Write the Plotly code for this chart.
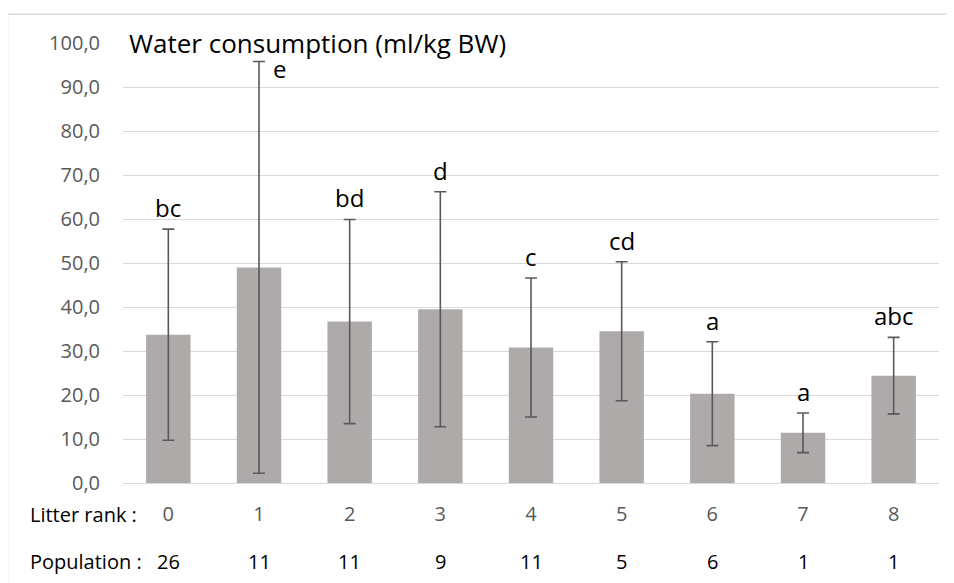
import plotly.graph_objects as go

litter_rank = [0, 1, 2, 3, 4, 5, 6, 7, 8]
mean_water = [33.7, 49.0, 36.7, 39.5, 30.8, 34.5, 20.3, 11.4, 24.4]
sd_water = [24.0, 46.8, 23.2, 26.7, 15.8, 15.8, 11.8, 4.5, 8.7]
letters = ["bc", "e", "bd", "d", "c", "cd", "a", "a", "abc"]
population = [26, 11, 11, 9, 11, 5, 6, 1, 1]
y_ticks = [0, 10, 20, 30, 40, 50, 60, 70, 80, 90, 100]

FONT = "Open Sans"
GRID = "#d9d9d9"

# page body has an 8px margin; plot area target in window px: x 123..939, y 43.3..483.3
fig = go.Figure()
fig.add_trace(go.Bar(
    x=litter_rank, y=mean_water, width=0.49,
    marker=dict(color="#aeaaaa", line=dict(width=0)),
    error_y=dict(type="data", array=sd_water, symmetric=True,
                 color="#595959", thickness=1.6, width=6),
    showlegend=False, hoverinfo="skip",
))

annotations = []
for xv, m, s, lab in zip(litter_rank, mean_water, sd_water, letters):
    if lab == "e":
        annotations.append(dict(x=xv, y=m + s, text=lab, xref="x", yref="y",
                                xanchor="left", yanchor="middle", xshift=12, yshift=-7,
                                showarrow=False, font=dict(family=FONT, size=24, color="black")))
    else:
        annotations.append(dict(x=xv, y=m + s, text=lab, xref="x", yref="y",
                                xanchor="center", yanchor="bottom", yshift=3,
                                showarrow=False, font=dict(family=FONT, size=24, color="black")))

for xv, p in zip(litter_rank, population):
    annotations.append(dict(x=xv, y=-0.179, text=str(p), xref="x", yref="paper",
                            xanchor="center", yanchor="middle", showarrow=False,
                            font=dict(family=FONT, size=20, color="black")))

annotations.append(dict(x=(28 - 123) / 816, y=-0.0727, text="Litter rank :", xref="paper", yref="paper",
                        xanchor="left", yanchor="middle", showarrow=False,
                        font=dict(family=FONT, size=20, color="black")))
annotations.append(dict(x=(28 - 123) / 816, y=-0.179, text="Population :", xref="paper", yref="paper",
                        xanchor="left", yanchor="middle", showarrow=False,
                        font=dict(family=FONT, size=20, color="black")))
annotations.append(dict(x=(127 - 123) / 816, y=100, text="Water consumption (ml/kg BW)", xref="paper", yref="y",
                        xanchor="left", yanchor="middle", showarrow=False,
                        font=dict(family=FONT, size=26, color="black")))

shapes = [
    dict(type="line", xref="paper", yref="paper", x0=(7.5 - 123) / 816, x1=1.05,
         y0=(483.3 - 14.5) / 440, y1=(483.3 - 14.5) / 440, line=dict(color=GRID, width=1.5)),
    dict(type="line", xref="paper", yref="paper", x0=(7.5 - 123) / 816, x1=(7.5 - 123) / 816,
         y0=(483.3 - 14.5) / 440, y1=-0.3, line=dict(color=GRID, width=1.5)),
]

fig.update_layout(
    width=954, height=583,
    margin=dict(l=115, r=23, t=35, b=108),
    paper_bgcolor="white", plot_bgcolor="white",
    separators=", ",
    font=dict(family=FONT, size=20, color="#595959"),
    annotations=annotations, shapes=shapes,
    bargap=0.5,
)
fig.update_xaxes(range=[-0.5, 8.5], tickmode="array", tickvals=litter_rank,
                 ticktext=[str(v) for v in litter_rank], showgrid=False, zeroline=False,
                 showline=False, ticks="", ticklabelstandoff=17,
                 tickfont=dict(family=FONT, size=20, color="#595959"))
fig.update_yaxes(range=[0, 100], tickmode="array", tickvals=y_ticks, tickformat=".1f",
                 showgrid=True, gridcolor=GRID, gridwidth=1.3, zeroline=True,
                 zerolinecolor=GRID, zerolinewidth=1.3, showline=False, ticks="",
                 ticklabelstandoff=22, tickfont=dict(family=FONT, size=20, color="#595959"))

fig.write_html("out.html")
